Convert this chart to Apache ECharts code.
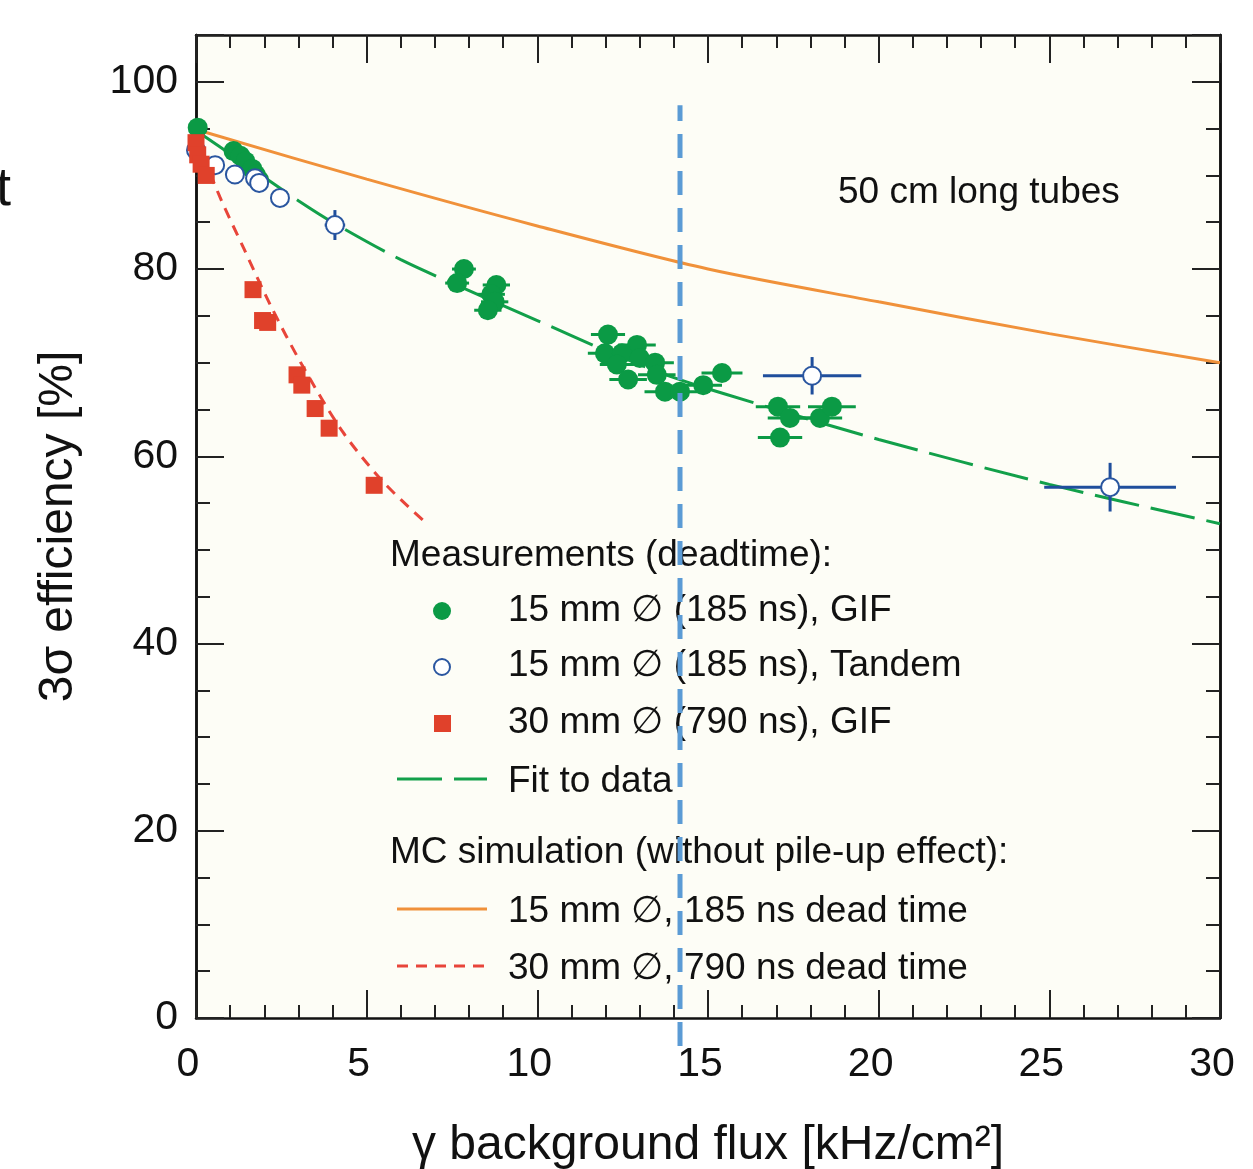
<!DOCTYPE html>
<html>
<head>
<meta charset="utf-8">
<script src="https://cdn.jsdelivr.net/npm/echarts@6/dist/echarts.min.js"></script>
<style>
  html, body { margin: 0; padding: 0; background: #fff; }
  #chart { width: 1253px; height: 1169px; }
</style>
</head>
<body>
<div id="chart"></div>
<script>
// measurements: [flux, efficiency, xErr, yErr]
var gifSmall = [
  [0.05, 95.1, 0, 0], [1.1, 92.6, 0.15, 0], [1.3, 92.1, 0.15, 0], [1.45, 91.5, 0.15, 0],
  [1.65, 90.7, 0.15, 0], [1.75, 90.1, 0.15, 0], [1.85, 89.5, 0.15, 0],
  [7.85, 80.0, 0.35, 0], [7.65, 78.5, 0.35, 0], [8.8, 78.3, 0.4, 0], [8.65, 77.3, 0.4, 0],
  [8.75, 76.5, 0.4, 0], [8.55, 75.6, 0.4, 0],
  [12.07, 73.0, 0.5, 0], [12.92, 71.9, 0.55, 0], [11.98, 71.0, 0.5, 0], [12.48, 71.0, 0.5, 0],
  [12.33, 69.8, 0.5, 0], [13.0, 70.5, 0.55, 0], [13.45, 70.0, 0.55, 0], [13.5, 68.7, 0.55, 0],
  [12.66, 68.2, 0.55, 0], [13.74, 66.9, 0.6, 0], [14.18, 66.9, 0.6, 0], [14.86, 67.6, 0.55, 0],
  [15.41, 68.9, 0.6, 0],
  [17.05, 65.3, 0.65, 0], [17.4, 64.1, 0.65, 0], [18.28, 64.1, 0.65, 0], [18.63, 65.3, 0.7, 0],
  [17.11, 62.0, 0.65, 0]
];
var tandemSmall = [
  [0.0, 92.7, 0, 0], [0.56, 91.1, 0, 0], [1.14, 90.1, 0, 0], [1.73, 89.7, 0, 0],
  [1.85, 89.2, 0, 0], [2.46, 87.6, 0, 0], [4.07, 84.7, 0.3, 1.6],
  [18.05, 68.6, 1.44, 2.0], [26.78, 56.7, 1.93, 2.6]
];
var gifLarge = [
  [0.0, 93.5], [0.05, 92.2], [0.15, 91.2], [0.3, 90.0],
  [1.67, 77.8], [1.95, 74.5], [2.1, 74.3], [2.96, 68.7], [3.1, 67.6],
  [3.49, 65.1], [3.9, 63.0], [5.22, 56.9]
];

// curves
var fitX = [0.2, 1, 2, 3, 4, 6, 8, 10, 12, 14, 17, 20, 25, 30];
var fitY = [94.3, 92.3, 89.8, 87.3, 85.0, 81.0, 77.7, 74.5, 71.3, 68.4, 65.0, 61.8, 57.0, 52.8];
var mc15X = [0, 5, 10, 15, 20, 25, 30];
var mc15Y = [94.9, 89.6, 84.6, 80.0, 76.5, 73.1, 70.0];
var mc30X = [0, 0.7, 1.4, 2.2, 3.1, 4.3, 5.5, 6.7];
var mc30Y = [94.0, 87.7, 82.2, 76.0, 69.8, 62.6, 57.2, 53.0];
var markerX = 14.18;
var markerY = [-3, 97.5];

var FONT = 'Liberation Sans, Arial, sans-serif';
var chart = echarts.init(document.getElementById('chart'));

function zip(xs, ys) { return xs.map(function (x, i) { return [x, ys[i]]; }); }

function errBars(color) {
  return function (params, api) {
    var x = api.value(0), y = api.value(1), ex = api.value(2), ey = api.value(3);
    var kids = [];
    if (ex > 0) {
      var a = api.coord([x - ex, y]), b = api.coord([x + ex, y]);
      kids.push({ type: 'line', shape: { x1: a[0], y1: a[1], x2: b[0], y2: b[1] }, style: { stroke: color, lineWidth: 3 } });
    }
    if (ey > 0) {
      var c = api.coord([x, y - ey]), d = api.coord([x, y + ey]);
      kids.push({ type: 'line', shape: { x1: c[0], y1: c[1], x2: d[0], y2: d[1] }, style: { stroke: color, lineWidth: 3 } });
    }
    return { type: 'group', children: kids };
  };
}

var tickStyle = { color: '#222', width: 2 };
function xAx(pos, label) {
  return {
    type: 'value', min: 0, max: 30, interval: 5, position: pos,
    axisLine: { show: true, onZero: false, lineStyle: { color: '#111', width: 2.5 } },
    axisTick: { show: true, inside: true, length: 28, lineStyle: tickStyle },
    minorTick: { show: true, splitNumber: 5, length: 13, lineStyle: tickStyle },
    axisLabel: { show: label, fontSize: 41, color: '#111', margin: 26, fontFamily: FONT, padding: [0, 16, 0, 0] },
    splitLine: { show: false }, minorSplitLine: { show: false }
  };
}
function yAx(pos, interval, len, label) {
  return {
    type: 'value', min: 0, max: 105, interval: interval, position: pos,
    axisLine: { show: true, onZero: false, lineStyle: { color: '#111', width: 2.5 } },
    axisTick: { show: true, inside: true, length: len, lineStyle: tickStyle },
    axisLabel: {
      show: label, fontSize: 41, color: '#111', margin: 18, fontFamily: FONT, padding: [6, 0, 0, 0],
      formatter: function (v) { return v % 20 === 0 ? String(v) : ''; }
    },
    splitLine: { show: false }
  };
}

var xBottom = xAx('bottom', true);
xBottom.name = 'γ background flux [kHz/cm²]';
xBottom.nameLocation = 'middle';
xBottom.nameGap = 104;
xBottom.nameTextStyle = { fontSize: 48, color: '#111', fontFamily: FONT };

var yLeft = yAx('left', 20, 28, true);
yLeft.name = '3σ efficiency [%]';
yLeft.nameLocation = 'middle';
yLeft.nameGap = 113;
yLeft.nameTextStyle = { fontSize: 48, color: '#111', fontFamily: FONT };

function txt(x, y, s, size) {
  return { type: 'text', x: x, y: y, style: { text: s, font: size + 'px ' + FONT, fill: '#111', verticalAlign: 'middle' } };
}
function seg(y, color, dash) {
  return { type: 'line', shape: { x1: 397, y1: y, x2: 487, y2: y }, style: { stroke: color, lineWidth: 3, lineDash: dash } };
}

var option = {
  animation: false,
  backgroundColor: '#fff',
  grid: {
    left: 196, right: 33, top: 35, bottom: 151, outerBoundsMode: 'none',
    show: true, backgroundColor: '#fdfdf6', borderWidth: 0
  },
  xAxis: [xBottom, xAx('top', false)],
  yAxis: [yLeft, yAx('left', 5, 14, false), yAx('right', 20, 28, false), yAx('right', 5, 14, false)],
  graphic: [
    txt(-4, 190, 't', 54),
    txt(838, 193, '50 cm long tubes', 37),
    txt(390, 556, 'Measurements (deadtime):', 37),
    { type: 'circle', shape: { cx: 442, cy: 611, r: 9 }, style: { fill: '#0b9a45' } },
    txt(508, 611, '15 mm ∅ (185 ns), GIF', 37),
    { type: 'circle', shape: { cx: 442, cy: 667, r: 8 }, style: { fill: '#fff', stroke: '#2a56a0', lineWidth: 2 } },
    txt(508, 666, '15 mm ∅ (185 ns), Tandem', 37),
    { type: 'rect', shape: { x: 434, y: 715, width: 17, height: 17 }, style: { fill: '#e0412b' } },
    txt(508, 723, '30 mm ∅ (790 ns), GIF', 37),
    seg(779, '#12a04a', [45, 12]),
    txt(508, 782, 'Fit to data', 37),
    txt(390, 853, 'MC simulation (without pile-up effect):', 37),
    seg(909, '#f0913a', null),
    txt(508, 912, '15 mm ∅, 185 ns dead time', 37),
    seg(966, '#e8453a', [11, 8]),
    txt(508, 969, '30 mm ∅, 790 ns dead time', 37)
  ],
  series: [
    {
      name: 'MC 15 mm', type: 'line', data: zip(mc15X, mc15Y), smooth: 0.3, showSymbol: false,
      lineStyle: { color: '#f0913a', width: 3 }, z: 2
    },
    {
      name: 'MC 30 mm', type: 'line', data: zip(mc30X, mc30Y), smooth: 0.3, showSymbol: false,
      lineStyle: { color: '#e8453a', width: 3, type: [11, 8] }, z: 2
    },
    {
      name: 'Fit to data', type: 'line', data: zip(fitX, fitY), smooth: 0.3, showSymbol: false,
      lineStyle: { color: '#12a04a', width: 3, type: [45, 12] }, z: 2
    },
    { type: 'custom', data: gifSmall, renderItem: errBars('#0b9a45'), encode: { x: 0, y: 1 }, z: 3 },
    { type: 'custom', data: tandemSmall, renderItem: errBars('#1f4e9c'), encode: { x: 0, y: 1 }, z: 3 },
    {
      name: '15 mm GIF', type: 'scatter', data: gifSmall, symbol: 'circle', symbolSize: 20, clip: false,
      itemStyle: { color: '#0b9a45', opacity: 1 }, z: 4
    },
    {
      name: '15 mm Tandem', type: 'scatter', data: tandemSmall, symbol: 'circle', symbolSize: 18, clip: false,
      itemStyle: { color: '#fff', borderColor: '#2a56a0', borderWidth: 2, opacity: 1 }, z: 4
    },
    {
      name: '30 mm GIF', type: 'scatter', data: gifLarge, symbol: 'rect', symbolSize: 17, clip: false,
      itemStyle: { color: '#e0412b', opacity: 1 }, z: 4
    },
    {
      type: 'line', data: [[markerX, markerY[0]], [markerX, markerY[1]]], showSymbol: false, clip: false,
      lineStyle: { color: '#5b9bd5', width: 5, type: [24, 13] }, z: 10
    }
  ]
};
chart.setOption(option);
</script>
</body>
</html>
